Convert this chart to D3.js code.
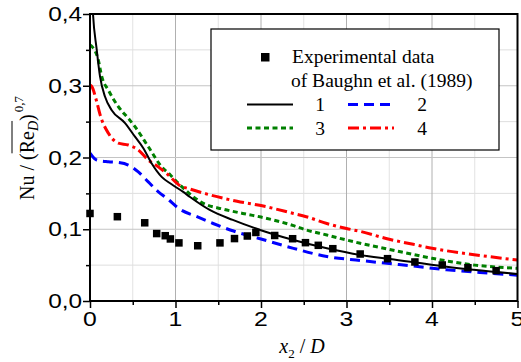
<!DOCTYPE html>
<html><head><meta charset="utf-8">
<script src="https://cdn.jsdelivr.net/npm/d3@7/dist/d3.min.js"></script>
<style>body{margin:0;background:#fff}svg{display:block}</style>
</head><body><svg id="c" width="521" height="362"></svg>
<script>
// ---- data ----
const xTicks = [0, 1, 2, 3, 4, 5];
const xTickLabels = ["0", "1", "2", "3", "4", "5"];
const yTicks = [0, 0.1, 0.2, 0.3, 0.4];
const yTickLabels = ["0,0", "0,1", "0,2", "0,3", "0,4"];
const xMinor = [0.5, 1.5, 2.5, 3.5, 4.5];
const yMinor = [0.05, 0.15, 0.25, 0.35];

const expX = [0, 0.32, 0.64, 0.78, 0.88, 0.94, 1.04, 1.26, 1.52, 1.69, 1.84, 1.94, 2.16, 2.37, 2.52, 2.67, 2.84, 3.16, 3.48, 3.80, 4.12, 4.42, 4.75];
const expY = [0.122, 0.1175, 0.109, 0.094, 0.091, 0.0865, 0.081, 0.077, 0.081, 0.087, 0.0906, 0.0955, 0.0913, 0.0868, 0.0813, 0.0776, 0.0729, 0.0655, 0.059, 0.0544, 0.0502, 0.0464, 0.0423];

const c1X = [0.015, 0.035, 0.078, 0.117, 0.175, 0.254, 0.41, 0.526, 0.624, 0.72, 0.838, 0.95, 1.09, 1.17, 1.40, 1.67, 1.99, 2.38, 2.77, 3.16, 3.51, 4.17, 5.0];
const c1Y = [0.45, 0.40, 0.351, 0.313, 0.285, 0.266, 0.248, 0.229, 0.213, 0.192, 0.173, 0.163, 0.152, 0.145, 0.127, 0.113, 0.099, 0.085, 0.0734, 0.0641, 0.0585, 0.0478, 0.0376];

const c2X = [0, 0.078, 0.214, 0.331, 0.448, 0.565, 0.682, 0.80, 0.90, 1.05, 1.25, 1.44, 1.64, 1.83, 2.0, 2.38, 2.77, 3.16, 3.47, 3.78, 4.17, 4.56, 5.0];
const c2Y = [0.206, 0.1965, 0.194, 0.193, 0.1895, 0.180, 0.166, 0.152, 0.143, 0.128, 0.1175, 0.108, 0.099, 0.092, 0.0864, 0.0734, 0.062, 0.0565, 0.0525, 0.0488, 0.0435, 0.0398, 0.036];

const c3X = [0, 0.02, 0.097, 0.137, 0.214, 0.331, 0.448, 0.526, 0.682, 0.838, 0.94, 1.05, 1.325, 1.56, 1.83, 2.0, 2.38, 2.53, 2.77, 3.0, 3.16, 3.5, 4.0, 4.5, 5.0];
const c3Y = [0.357, 0.355, 0.336, 0.313, 0.294, 0.271, 0.2546, 0.243, 0.215, 0.187, 0.1756, 0.162, 0.136, 0.128, 0.121, 0.117, 0.105, 0.099, 0.092, 0.085, 0.0805, 0.072, 0.0595, 0.050, 0.0456];

const c4X = [0, 0.02, 0.078, 0.117, 0.214, 0.331, 0.448, 0.565, 0.682, 0.799, 0.916, 1.05, 1.17, 1.40, 1.72, 2.0, 2.38, 2.53, 2.77, 3.0, 3.16, 3.5, 3.78, 4.0, 4.17, 4.56, 5.0];
const c4Y = [0.301, 0.299, 0.278, 0.26, 0.234, 0.220, 0.2174, 0.2105, 0.1965, 0.187, 0.1756, 0.161, 0.156, 0.148, 0.139, 0.133, 0.122, 0.1175, 0.108, 0.101, 0.097, 0.086, 0.079, 0.0735, 0.070, 0.0635, 0.057];

const seriesNames = ["1", "2", "3", "4"];
const legendTitle = ["Experimental data", "of Baughn et al. (1989)"];

// ---- chart ----
const svg = d3.select("#c");
const x = d3.scaleLinear().domain([0, 5]).range([90, 517.5]);
const y = d3.scaleLinear().domain([0, 0.4]).range([301, 14]);
const [x0, x1] = x.range();
const [y0, y1] = y.range();

// grid
const g = svg.append("g");
g.selectAll(".mvx").data(xMinor).join("line")
  .attr("x1", d => x(d)).attr("x2", d => x(d)).attr("y1", y1).attr("y2", y0)
  .attr("stroke", "#e2e2e2").attr("stroke-width", 1);
g.selectAll(".mhy").data(yMinor).join("line").attr("class","mhy")
  .attr("y1", d => y(d)).attr("y2", d => y(d)).attr("x1", x0).attr("x2", x1)
  .attr("stroke", "#dedede").attr("stroke-width", 1);
g.selectAll(".Mvx").data(xTicks.slice(1, -1)).join("line").attr("class","Mvx")
  .attr("x1", d => x(d)).attr("x2", d => x(d)).attr("y1", y1).attr("y2", y0)
  .attr("stroke", "#b0b0b0").attr("stroke-width", 1);
g.selectAll(".Mhy").data(yTicks.slice(1, -1)).join("line").attr("class","Mhy")
  .attr("y1", d => y(d)).attr("y2", d => y(d)).attr("x1", x0).attr("x2", x1)
  .attr("stroke", "#c4c4c4").attr("stroke-width", 1);

// ticks via axes
function styleAxis(sel) {
  sel.select(".domain").remove();
  sel.selectAll(".tick line").attr("stroke", "#000").attr("stroke-width", 1.5);
}
svg.append("g").attr("transform", `translate(${x0},0)`)
  .call(d3.axisLeft(y).tickValues(yTicks).tickSize(7).tickFormat("")).call(styleAxis);
svg.append("g").attr("transform", `translate(${x0},0)`)
  .call(d3.axisLeft(y).tickValues(yMinor).tickSize(4).tickFormat("")).call(styleAxis);
svg.append("g").attr("transform", `translate(0,${y0})`)
  .call(d3.axisBottom(x).tickValues(xTicks).tickSize(7).tickFormat("")).call(styleAxis);
svg.append("g").attr("transform", `translate(0,${y0})`)
  .call(d3.axisBottom(x).tickValues(xMinor).tickSize(4).tickFormat("")).call(styleAxis);

// tick labels
svg.selectAll(".yl").data(yTicks).join("text").attr("class","yl")
  .attr("transform", d => `translate(82,${y(d) + 7}) scale(1.25,1)`)
  .attr("text-anchor", "end")
  .style("font-family", "'Liberation Sans', Arial, sans-serif").style("font-size", "19.5px")
  .text((d, i) => yTickLabels[i]);
svg.selectAll(".xl").data(xTicks).join("text").attr("class","xl")
  .attr("transform", d => `translate(${x(d)},326) scale(1.18,1)`)
  .attr("text-anchor", "middle")
  .style("font-family", "'Liberation Sans', Arial, sans-serif").style("font-size", "21px")
  .text((d, i) => xTickLabels[i]);

// clip
svg.append("clipPath").attr("id", "clip").append("rect")
  .attr("x", x0).attr("y", y1).attr("width", x1 - x0).attr("height", y0 - y1);

const line = d3.line().x(d => x(d[0])).y(d => y(d[1])).curve(d3.curveMonotoneX);
const series = [
  { xs: c1X, ys: c1Y, color: "#000", w: 2, dash: null },
  { xs: c2X, ys: c2Y, color: "#0000ff", w: 3, dash: "10,6" },
  { xs: c3X, ys: c3Y, color: "#008000", w: 3, dash: "5,3.5" },
  { xs: c4X, ys: c4Y, color: "#ff0000", w: 3, dash: "11,4,3,4" }
];
const plot = svg.append("g").attr("clip-path", "url(#clip)");
// draw order: 2,3,4,1 so black on top-ish
[1, 2, 3, 0].forEach(i => {
  const s = series[i];
  plot.append("path").datum(s.xs.map((v, k) => [v, s.ys[k]]))
    .attr("d", line).attr("fill", "none").attr("stroke", s.color)
    .attr("stroke-width", s.w).attr("stroke-dasharray", s.dash);
});

// experimental squares
const sq = 7.5;
svg.append("g").selectAll("rect").data(expX.map((v, i) => [v, expY[i]])).join("rect")
  .attr("x", d => x(d[0]) - sq / 2).attr("y", d => y(d[1]) - sq / 2)
  .attr("width", sq).attr("height", sq).attr("fill", "#000");

// frame
svg.append("rect").attr("x", x0).attr("y", y1).attr("width", x1 - x0).attr("height", y0 - y1)
  .attr("fill", "none").attr("stroke", "#000").attr("stroke-width", 2);

// legend
const serif = "'Liberation Serif', 'Times New Roman', serif";
const lg = svg.append("g");
lg.append("rect").attr("x", 211).attr("y", 29).attr("width", 288).attr("height", 121)
  .attr("fill", "#fff").attr("stroke", "#000").attr("stroke-width", 1.2);
lg.append("rect").attr("x", 261).attr("y", 53).attr("width", 8.5).attr("height", 8.5).attr("fill", "#000");
lg.append("text").attr("x", 292).attr("y", 63).style("font-family", serif).style("font-size", "19.5px").text(legendTitle[0]);
lg.append("text").attr("x", 291).attr("y", 87).style("font-family", serif).style("font-size", "19.5px").text(legendTitle[1]);
const legPos = [
  { lx: 247, ly: 104.5, tx: 320, ty: 111 },
  { lx: 348, ly: 104.5, tx: 422, ty: 111 },
  { lx: 247, ly: 128, tx: 320, ty: 135 },
  { lx: 348, ly: 128, tx: 422, ty: 135 }
];
series.forEach((s, i) => {
  const p = legPos[i];
  lg.append("line").attr("x1", p.lx).attr("x2", p.lx + 46).attr("y1", p.ly).attr("y2", p.ly)
    .attr("stroke", s.color).attr("stroke-width", s.w).attr("stroke-dasharray", s.dash);
  lg.append("text").attr("x", p.tx).attr("y", p.ty).attr("text-anchor", "middle")
    .style("font-family", serif).style("font-size", "19.5px").text(seriesNames[i]);
});

// x axis title
const xt = svg.append("text").attr("x", 302).attr("y", 353).attr("text-anchor", "middle")
  .style("font-family", serif).style("font-size", "20px");
xt.append("tspan").style("font-style", "italic").text("x");
xt.append("tspan").attr("dy", 5).style("font-size", "13px").text("2");
xt.append("tspan").attr("dy", -5).text(" / ");
xt.append("tspan").style("font-style", "italic").text("D");

// y axis title
const yg = svg.append("g").attr("transform", "translate(34,148) rotate(-90)");
const yt = yg.append("text").attr("x", 0).attr("y", 0).attr("text-anchor", "middle")
  .style("font-family", serif).style("font-size", "20px");
yt.append("tspan").text("Nu / (Re");
yt.append("tspan").attr("dy", 4).style("font-size", "14px").style("font-style", "italic").text("D");
yt.append("tspan").attr("dy", -4).text(")");
yt.append("tspan").attr("dy", -11).attr("dx", 2).style("font-size", "13px").text("0,7");
const node = yt.node();
const r0 = node.getExtentOfChar(6), r1 = node.getExtentOfChar(8);
yg.append("line").attr("x1", r0.x).attr("x2", r1.x + r1.width).attr("y1", -22).attr("y2", -22)
  .attr("stroke", "#000").attr("stroke-width", 1);
</script></body></html>
